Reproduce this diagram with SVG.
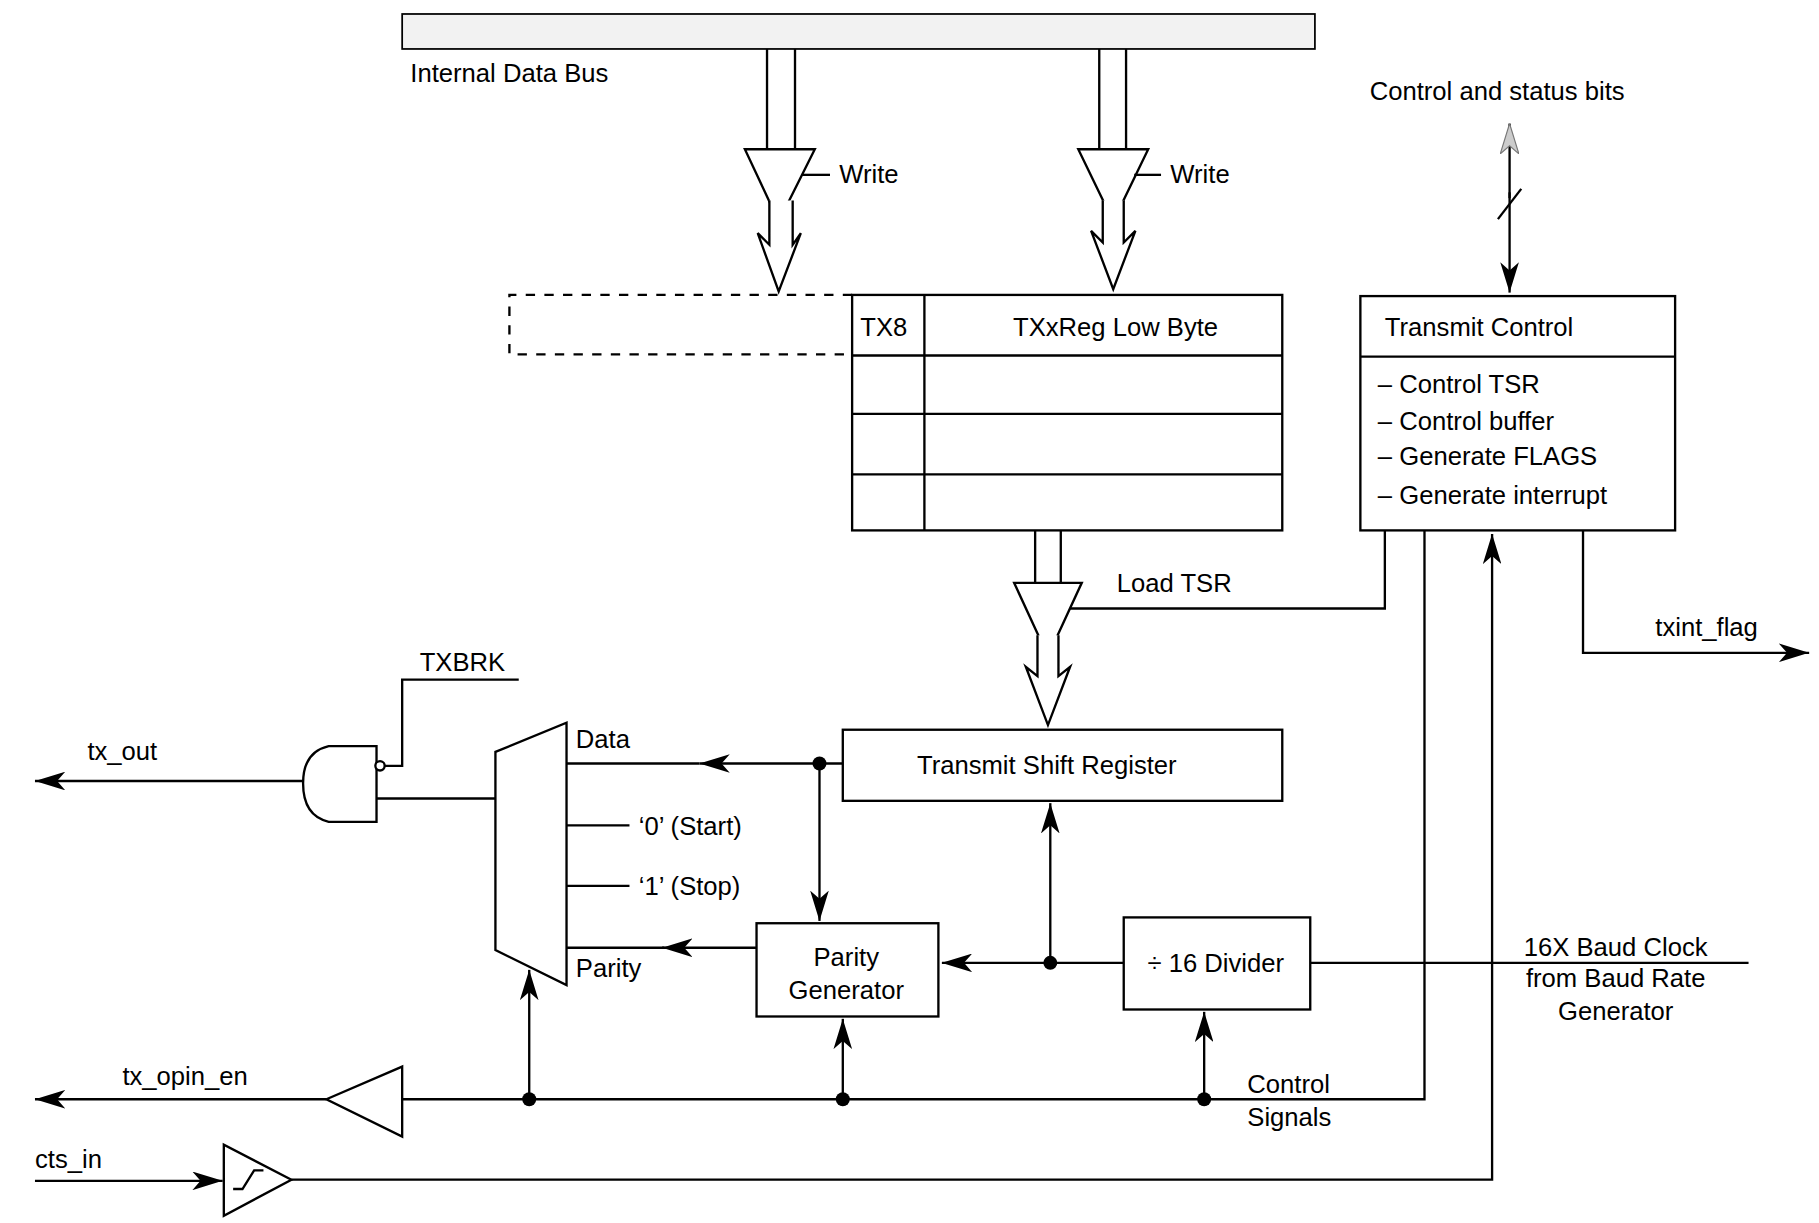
<svg xmlns="http://www.w3.org/2000/svg" width="1819" height="1223" viewBox="0 0 1819 1223">
<defs>
<marker id="ah" viewBox="0 0 26 16" refX="26" refY="8" markerWidth="26" markerHeight="16" markerUnits="userSpaceOnUse" orient="auto"><path d="M0,0 L26,8 L0,16 L7,8 Z" fill="#000"/></marker>
<marker id="ahg" viewBox="0 0 26 16" refX="26" refY="8" markerWidth="26" markerHeight="16" markerUnits="userSpaceOnUse" orient="auto"><path d="M0,0 L26,8 L0,16 L7,8 Z" fill="#ccc" stroke="#777" stroke-width="1"/></marker>
<style>
text{font-family:"Liberation Sans",Arial,sans-serif;font-size:22px;fill:#000}
.c{text-anchor:middle}
.b{fill:#fff;stroke:#000;stroke-width:2}
.l{fill:none;stroke:#000;stroke-width:2}
.a{fill:none;stroke:#000;stroke-width:2;marker-end:url(#ah)}
.h{fill:#fff;stroke:#000;stroke-width:2;stroke-linejoin:miter}
</style>
</defs>
<rect width="1819" height="1223" fill="#fff"/>
<g transform="scale(1.1657)">
<g id="bus">
<rect x="345" y="12" width="783" height="30" fill="#f2f2f2" stroke="#000" stroke-width="1.5"/>
<text x="352" y="70">Internal Data Bus</text>
</g>
<g id="write-left">
<path class="l" d="M658,42 V128 M682,42 V128"/>
<path class="h" d="M639,128 H699 L668,190 Z"/>
<path class="h" d="M660,172 V210 L650,200 L668,250 L687,200 L680,210 V172"/>
<path class="l" d="M688,150 H712"/>
<text x="720" y="157">Write</text>
</g>
<g id="write-right">
<path class="l" d="M943,42 V128 M966,42 V128"/>
<path class="h" d="M925,128 H985 L955,190 Z"/>
<path class="h" d="M946,172 V208 L936,198 L955,248 L974,198 L964,208 V172"/>
<path class="l" d="M973,150 H996"/>
<text x="1004" y="157">Write</text>
</g>
<g id="txreg">
<path d="M731,253 H437 V304 H731" fill="none" stroke="#000" stroke-width="2" stroke-dasharray="8,8"/>
<rect class="b" x="731" y="253" width="369" height="202"/>
<path class="l" d="M731,305 H1100 M731,355 H1100 M731,407 H1100 M793,253 V455"/>
<text x="738" y="288">TX8</text>
<text class="c" x="957" y="288">TXxReg Low Byte</text>
</g>
<g id="transmit-control">
<rect class="b" x="1167" y="254" width="270" height="201"/>
<path class="l" d="M1167,306 H1437"/>
<text x="1188" y="288">Transmit Control</text>
<text x="1182" y="337">– Control TSR</text>
<text x="1182" y="369">– Control buffer</text>
<text x="1182" y="399">– Generate FLAGS</text>
<text x="1182" y="432">– Generate interrupt</text>
</g>
<g id="status">
<text x="1175" y="86">Control and status bits</text>
</g>
<g id="load">
<path class="l" d="M888,455 V500 M910,455 V500"/>
<path class="h" d="M870,500 H928 L899,563 Z"/>
<path class="h" d="M890,545 V580 L880,572 L899,622 L918,572 L908,580 V545"/>
<text x="958" y="508">Load TSR</text>
</g>
<g id="tsr">
<rect class="b" x="723" y="626" width="377" height="61"/>
<text class="c" x="898" y="664">Transmit Shift Register</text>
</g>
<g id="mux">
<path class="b" d="M425,645 L486,620 V845 L425,815 Z"/>
<text x="494" y="642">Data</text>
<text x="548" y="716">‘0’ (Start)</text>
<text x="548" y="768">‘1’ (Stop)</text>
<text x="494" y="838">Parity</text>
</g>
<g id="parity">
<rect class="b" x="649" y="792" width="156" height="80"/>
<text class="c" x="726" y="829">Parity</text>
<text class="c" x="726" y="857">Generator</text>
</g>
<g id="divider">
<rect class="b" x="964" y="787" width="160" height="79"/>
<text class="c" x="1043" y="834">÷ 16 Divider</text>
<text class="c" x="1386" y="820">16X Baud Clock</text>
<text class="c" x="1386" y="847">from Baud Rate</text>
<text class="c" x="1386" y="875">Generator</text>
</g>
<g id="gate">
<path class="b" d="M323,640 H282 Q260,645 260,672 Q260,700 282,705 H323 Z"/>
<circle cx="326" cy="657" r="4" class="b"/>
<text x="360" y="576">TXBRK</text>
<text x="75" y="652">tx_out</text>
</g>
<g id="buffer">
<path class="b" d="M345,915 V975 L280,943 Z"/>
<text x="105" y="931">tx_opin_en</text>
</g>
<g id="schmitt">
<path class="b" d="M192,982 V1043 L250,1012 Z"/>
<path class="l" d="M200,1020 H208 L218,1004 H226" stroke-width="1.5"/>
<text x="30" y="1002">cts_in</text>
</g>
<g id="misc-labels">
<text x="1070" y="938">Control</text>
<text x="1070" y="966">Signals</text>
<text x="1420" y="546">txint_flag</text>
</g>
<g id="connectors">
<path d="M1295,170 L1295,106" fill="none" stroke="#000" stroke-width="2" marker-end="url(#ahg)"/>
<path class="a" d="M1295,165 V251"/>
<path class="l" d="M1285,188 L1305,162"/>
<path class="l" d="M1188,455 V522 H918"/>
<path class="a" d="M723,655 H600"/>
<path class="l" d="M600,655 H486"/>
<circle cx="703" cy="655" r="6"/>
<path class="a" d="M703,655 V790"/>
<path class="l" d="M486,708 H540 M486,760 H540"/>
<path class="a" d="M649,813 H568"/>
<path class="l" d="M570,813 H486"/>
<path class="a" d="M964,826 H808"/>
<circle cx="901" cy="826" r="6"/>
<path class="a" d="M901,826 V689"/>
<path class="l" d="M1124,826 H1500"/>
<path class="l" d="M345,943 H1222 V455"/>
<circle cx="454" cy="943" r="6"/>
<circle cx="723" cy="943" r="6"/>
<circle cx="1033" cy="943" r="6"/>
<path class="a" d="M454,943 V832"/>
<path class="a" d="M723,943 V874"/>
<path class="a" d="M1033,943 V868"/>
<path class="a" d="M280,943 H30"/>
<path class="a" d="M30,1013 H191"/>
<path class="a" d="M250,1012 H1280 V458"/>
<path class="a" d="M1358,455 V560 H1552"/>
<path class="l" d="M330,657 H345 V583 H445"/>
<path class="l" d="M323,685 H425"/>
<path class="a" d="M260,670 H30"/>
</g>
</g>
</svg>
